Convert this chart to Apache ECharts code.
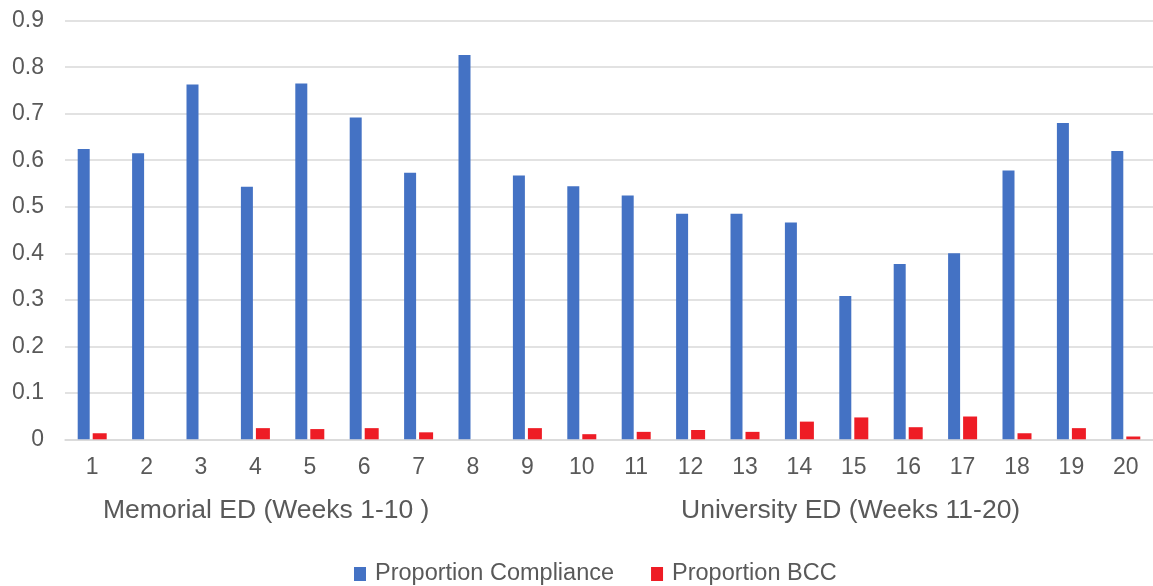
<!DOCTYPE html>
<html>
<head>
<meta charset="utf-8">
<style>
  html, body { margin: 0; padding: 0; background: #ffffff; }
  #chart { width: 1153px; height: 586px; }
</style>
<script src="https://cdn.jsdelivr.net/npm/echarts@6/dist/echarts.min.js"></script>
</head>
<body>
<div id="chart"></div>
<script>
// Study weeks 1-20 (Memorial ED weeks 1-10, University ED weeks 11-20)
const weeks = ['1','2','3','4','5','6','7','8','9','10','11','12','13','14','15','16','17','18','19','20'];

// Weekly proportion of compliance
const proportionCompliance = [0.624, 0.615, 0.763, 0.543, 0.765, 0.692, 0.573, 0.826, 0.567, 0.544,
                              0.524, 0.485, 0.485, 0.466, 0.308, 0.377, 0.400, 0.578, 0.680, 0.620];

// Weekly proportion of BCC
const proportionBCC = [0.013, 0, 0, 0.024, 0.022, 0.024, 0.015, 0, 0.024, 0.011,
                       0.016, 0.020, 0.016, 0.038, 0.047, 0.026, 0.049, 0.013, 0.024, 0.006];

// Site group captions under the week axis
const siteGroups = ['Memorial ED (Weeks 1-10 )', 'University ED (Weeks 11-20)'];

const seriesNames = ['Proportion Compliance', 'Proportion BCC'];

const FONT = '"Liberation Sans", Arial, sans-serif';
const TEXT = '#595959';
const GRID_LINE = '#d9d9d9';

const chart = echarts.init(document.getElementById('chart'), null, { renderer: 'canvas' });

chart.setOption({
  animation: false,
  backgroundColor: '#ffffff',
  textStyle: { fontFamily: FONT },
  grid: { left: 65, right: -6, top: 20.7, bottom: 146.7, containLabel: false },
  legend: {
    data: seriesNames,
    top: 561,
    left: 354,
    padding: 0,
    icon: 'rect',
    itemWidth: 12,
    itemHeight: 14,
    itemGap: 37,
    textStyle: { color: TEXT, fontSize: 23.5, fontFamily: FONT, lineHeight: 26, padding: [0, 0, 0, 4] }
  },
  xAxis: {
    type: 'category',
    data: weeks,
    axisLine: { lineStyle: { color: GRID_LINE, width: 1.5 } },
    axisTick: { show: false },
    axisLabel: { color: TEXT, fontSize: 23, fontFamily: FONT, margin: 17 }
  },
  yAxis: {
    type: 'value',
    min: 0,
    max: 0.9,
    interval: 0.1,
    axisLine: { show: false },
    axisTick: { show: false },
    splitLine: { lineStyle: { color: GRID_LINE, width: 1.5 } },
    axisLabel: {
      color: TEXT,
      fontSize: 23,
      fontFamily: FONT,
      margin: 21,
      formatter: v => (v === 0 ? '0' : v.toFixed(1))
    }
  },
  graphic: [
    {
      type: 'text',
      left: 103,
      top: 497,
      style: { text: siteGroups[0], fill: TEXT, font: '26.5px ' + FONT }
    },
    {
      type: 'text',
      left: 681,
      top: 497,
      style: { text: siteGroups[1], fill: TEXT, font: '26.5px ' + FONT }
    }
  ],
  series: [
    {
      name: seriesNames[0],
      type: 'bar',
      data: proportionCompliance,
      barWidth: 12,
      barGap: '25%',
      itemStyle: { color: '#4472c4' }
    },
    {
      name: seriesNames[1],
      type: 'bar',
      data: proportionBCC,
      barWidth: 14,
      itemStyle: { color: '#ee1c25' }
    }
  ]
});
</script>
</body>
</html>
